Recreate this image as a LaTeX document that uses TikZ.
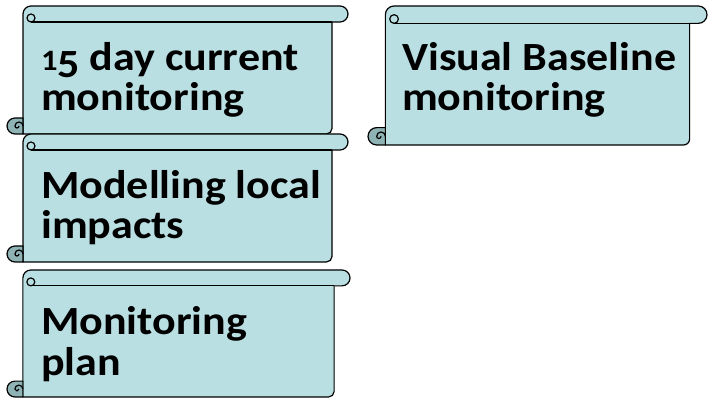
\documentclass[tikz,border=0pt]{standalone}
\usepackage{fontspec}
\usepackage{graphicx}
\setmainfont{Carlito}[FakeStretch=1.1]
\definecolor{scrollfill}{HTML}{B9DFE3}
\definecolor{rollfill}{HTML}{8FB2B4}
\tikzset{
  scrollline/.style={draw=black, line width=1.2pt, line join=round},
  scrolltext/.style={anchor=base west, align=left, inner sep=0pt,
    font=\bfseries\fontsize{40}{40}\selectfont}
}
\newcommand\oldfig[1]{\raisebox{-0.17em}{#1}}
\newcommand\scrollbox[6]{%
  \pgfmathsetmacro\scrL{#2}\pgfmathsetmacro\scrR{#4}%
  \pgfmathsetmacro\scrT{398-#3}\pgfmathsetmacro\scrB{398-#5}%
  \pgfmathsetmacro\scrC{0.125*min(#4-#2,#5-#3)}%
  \pgfmathsetmacro\scrH{\scrC/2}\pgfmathsetmacro\scrQ{\scrC/4}%
  \pgfmathsetmacro\scrK{0.35*\scrC}%
  \path[scrollline, fill=scrollfill] ({\scrL+\scrC},{\scrB}) -- ({\scrL+\scrC},{\scrT-\scrH})
    arc[start angle=180,end angle=90,radius=\scrH] -- ({\scrR-\scrH},{\scrT})
    arc[start angle=90,end angle=-90,radius=\scrH] -- ({\scrR-\scrC},{\scrT-\scrC})
    -- ({\scrR-\scrC},{\scrB+\scrK}) arc[start angle=0,end angle=-90,radius=\scrK] -- cycle;
  \draw[scrollline] ({\scrL+\scrC+\scrH},{\scrT-\scrC}) -- ({\scrR-\scrC},{\scrT-\scrC});
  \draw[scrollline] ({\scrL+\scrC+\scrH},{\scrT-\scrC+\scrQ}) circle[radius=\scrQ];
  \path[scrollline, fill=rollfill] ({\scrL+\scrC},{\scrB+\scrC}) -- ({\scrL+\scrH},{\scrB+\scrC})
    arc[start angle=90,end angle=270,radius=\scrH] -- ({\scrL+\scrC},{\scrB}) -- cycle;
  \draw[scrollline] ({\scrL+\scrC},{\scrB+\scrH}) arc[start angle=0,end angle=180,radius=\scrQ]
    arc[start angle=180,end angle=360,radius=\scrQ/2];
  \node[scrolltext] (#1) at ({\scrL+34},{\scrT-105}) {#6};
}
\begin{document}
\begin{tikzpicture}[x=1pt,y=1pt]
\fill[white] (0,0) rectangle (708,398);
\useasboundingbox (0,0) rectangle (708,398);
\scrollbox{a}{7}{6}{348}{134}{\scalebox{0.74}{1}\oldfig{5} day current\\monitoring}
\scrollbox{b}{368}{6}{707}{145}{Visual Baseline\\monitoring}
\scrollbox{c}{7}{134}{348}{262}{Modelling local\\impacts}
\scrollbox{d}{7}{270}{350}{397}{Monitoring\\plan}
\end{tikzpicture}
\end{document}
